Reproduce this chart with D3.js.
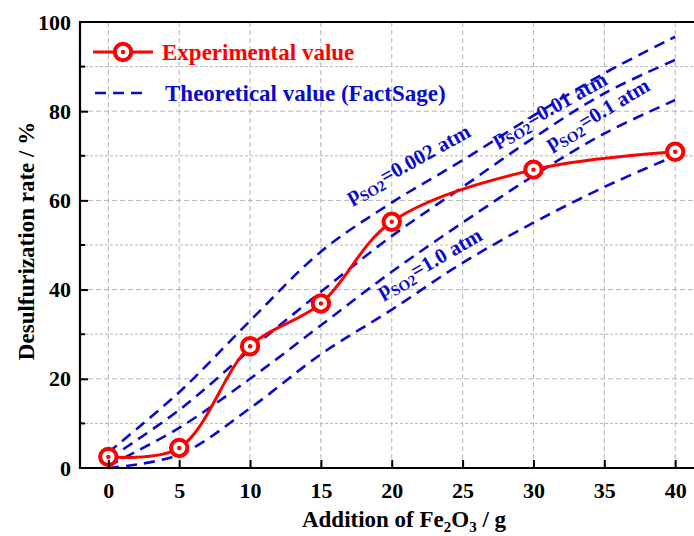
<!DOCTYPE html>
<html>
<head>
  <meta charset="utf-8">
  <title>Desulfurization rate vs Fe2O3 addition</title>
  <script src="https://d3js.org/d3.v7.min.js"></script>
  <style>
    body { margin: 0; background: #fff; }
    svg { display: block; }
    text { font-family: "Liberation Serif", "Times New Roman", serif; font-weight: bold; }
    .grid line { stroke: #b4b4b4; stroke-width: 1; }
  </style>
</head>
<body>
<div id="chart"></div>
<script>

// experimental points
const expX = [0, 5, 10, 15, 20, 30, 40];
const expRate = [2.5, 4.5, 27.3, 36.9, 55.2, 66.9, 70.9];

// FactSage curves, one array per SO2 partial pressure
const theoX = [0, 5, 10, 15, 20, 25, 30, 35, 40];
const theo0002 = [3.5, 17, 33, 48.5, 59.5, 69, 79, 88.5, 96.7];
const theo001 = [2, 13, 26.5, 39.5, 52, 63, 74, 84, 91.5];
const theo01 = [0.5, 9, 20, 32, 44, 55, 65.5, 75, 82.5];
const theo10 = [0, 3, 13.4, 25.5, 35.5, 46, 55, 63, 70];

const pressures = ["0.002", "0.01", "0.1", "1.0"];
// where each pressure label sits (data units) and its slope angle
const labelAt = [[17.1, 59.4], [27.4, 72.2], [31.2, 71.3], [19.3, 38.1]];
const labelAngle = [-29, -29, -31, -30];

const xTicks = [0, 5, 10, 15, 20, 25, 30, 35, 40];
const yTicks = [0, 20, 40, 60, 80, 100];
const yMinor = [10, 30, 50, 70, 90];

const width = 694;
const height = 536;
const red = "#ff0000";
const blue = "#0a0acc";

const x = d3.scaleLinear().domain([-2, 42]).range([80, 703.5]);
const y = d3.scaleLinear().domain([0, 100]).range([468, 22]);

const svg = d3.select("#chart").append("svg")
    .attr("width", width)
    .attr("height", height);

// grid
const grid = svg.append("g").attr("class", "grid");
grid.selectAll(".vx").data(xTicks).enter().append("line")
    .attr("x1", d => x(d)).attr("x2", d => x(d))
    .attr("y1", y(100)).attr("y2", y(0))
    .attr("stroke-dasharray", "5,3");
grid.selectAll(".hy").data(yTicks.slice(1, -1)).enter().append("line")
    .attr("x1", x(-2)).attr("x2", x(42))
    .attr("y1", d => y(d)).attr("y2", d => y(d))
    .attr("stroke-dasharray", "5,3");
grid.selectAll(".hm").data(yMinor).enter().append("line")
    .attr("x1", x(-2)).attr("x2", x(42))
    .attr("y1", d => y(d)).attr("y2", d => y(d))
    .attr("stroke-dasharray", "3,2")
    .attr("stroke", "#c4c4c4");

// both the theoretical and experimental curves are smooth splines
const line = d3.line()
    .x(d => x(d[0]))
    .y(d => y(d[1]))
    .curve(d3.curveCatmullRom);

const theo = [theo0002, theo001, theo01, theo10];
svg.append("g").selectAll("path")
    .data(theo)
    .enter().append("path")
    .attr("d", s => line(theoX.map((v, i) => [v, s[i]])))
    .attr("fill", "none")
    .attr("stroke", blue)
    .attr("stroke-width", 2.6)
    .attr("stroke-dasharray", "11,7");

svg.append("path")
    .attr("d", line(expX.map((v, i) => [v, expRate[i]])))
    .attr("fill", "none")
    .attr("stroke", red)
    .attr("stroke-width", 3);

const pts = svg.append("g").selectAll("g")
    .data(expX.map((v, i) => [v, expRate[i]]))
    .enter().append("g")
    .attr("transform", d => `translate(${x(d[0])},${y(d[1])})`);
pts.append("circle").attr("r", 8.2)
    .attr("fill", "#fff").attr("stroke", red).attr("stroke-width", 4);
pts.append("circle").attr("r", 2.2).attr("fill", red);

// pressure labels
const lab = svg.append("g").selectAll("text")
    .data(pressures)
    .enter().append("text")
    .attr("transform", (d, i) => `translate(${x(labelAt[i][0])},${y(labelAt[i][1])}) rotate(${labelAngle[i]})`)
    .attr("fill", blue)
    .attr("font-size", 21);
lab.append("tspan").text("p");
lab.append("tspan").attr("font-size", 15).attr("dy", 5).text("SO2");
lab.append("tspan").attr("dy", -5).text(d => "=" + d + " atm");

// axes
const xAxis = d3.axisBottom(x).tickValues(xTicks).tickSize(-8).tickPadding(14);
const gx = svg.append("g").attr("transform", `translate(0,${y(0)})`).call(xAxis);
const yAxis = d3.axisLeft(y).tickValues(yTicks).tickSize(-8).tickPadding(9);
const gy = svg.append("g").attr("transform", `translate(${x(-2)},0)`).call(yAxis);
[gx, gy].forEach(g => {
  g.attr("font-family", null);
  g.select(".domain").remove();
  g.selectAll(".tick line").attr("stroke", "#000").attr("stroke-width", 2);
  g.selectAll(".tick text").attr("font-size", 22).attr("fill", "#000");
});
gy.selectAll(".tick").filter(d => d === 0 || d === 100).select("line").remove();
svg.append("g").selectAll("line").data(yMinor).enter().append("line")
    .attr("x1", x(-2)).attr("x2", x(-2) + 5)
    .attr("y1", d => y(d)).attr("y2", d => y(d))
    .attr("stroke", "#000").attr("stroke-width", 2);

// frame
svg.append("path")
    .attr("d", `M${x(42)},${y(100)}H${x(-2)}V${y(0)}H${x(42)}`)
    .attr("fill", "none").attr("stroke", "#000").attr("stroke-width", 2.2);

// axis titles
const xt = svg.append("text")
    .attr("x", 404).attr("y", 527)
    .attr("text-anchor", "middle")
    .attr("font-size", 23);
xt.append("tspan").text("Addition of Fe");
xt.append("tspan").attr("font-size", 15).attr("dy", 5).text("2");
xt.append("tspan").attr("dy", -5).text("O");
xt.append("tspan").attr("font-size", 15).attr("dy", 5).text("3");
xt.append("tspan").attr("dy", -5).text(" / g");

svg.append("text")
    .attr("transform", "translate(34,241) rotate(-90)")
    .attr("text-anchor", "middle")
    .attr("font-size", 23)
    .text("Desulfurization rate / %");

// legend
const lg = svg.append("g");
lg.append("line").attr("x1", 93).attr("x2", 153).attr("y1", 52).attr("y2", 52)
    .attr("stroke", red).attr("stroke-width", 3);
lg.append("circle").attr("cx", 123).attr("cy", 52).attr("r", 8.2)
    .attr("fill", "#fff").attr("stroke", red).attr("stroke-width", 4);
lg.append("circle").attr("cx", 123).attr("cy", 52).attr("r", 2.2).attr("fill", red);
lg.append("text").attr("x", 162).attr("y", 60).attr("font-size", 23)
    .attr("fill", red).text("Experimental value");
lg.append("line").attr("x1", 95).attr("x2", 145).attr("y1", 93).attr("y2", 93)
    .attr("stroke", blue).attr("stroke-width", 2.6).attr("stroke-dasharray", "11,7");
lg.append("text").attr("x", 165).attr("y", 101).attr("font-size", 23)
    .attr("fill", blue).text("Theoretical value (FactSage)");

</script>
</body>
</html>
